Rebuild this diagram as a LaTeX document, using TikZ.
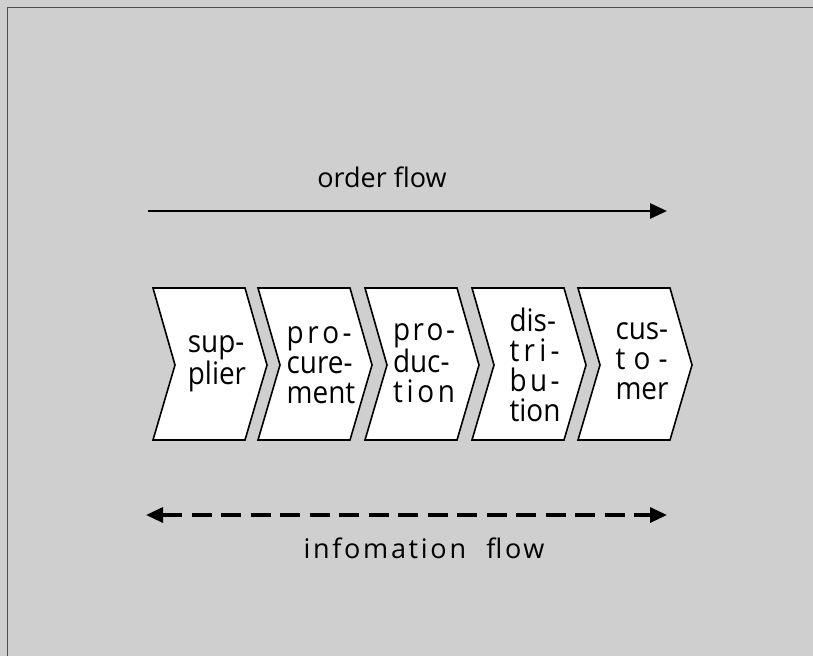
\documentclass[tikz,border=0pt]{standalone}
\usepackage{fontspec}
\setmainfont{Open Sans}
\newfontfamily\chevfont{Open Sans}[FakeStretch=0.9]
\newfontfamily\spacedfont{Open Sans}[LetterSpace=10]
\usetikzlibrary{arrows.meta}
\tikzset{
  chev/.style={draw=black, line width=1.6pt, fill=white, line join=miter},
  lbl/.style={inner sep=0pt, align=left, font=\chevfont\fontsize{31}{30}\selectfont},
  flowtxt/.style={inner sep=0pt, font=\fontsize{27}{31}\selectfont},
  tip/.style={-{Triangle[length=17pt,width=15pt]}},
  dtip/.style={{Triangle[length=17pt,width=15pt]}-{Triangle[length=17pt,width=15pt]}},
}
\newcommand{\spr}[2]{\makebox[#1][s]{#2}}
\begin{document}
\begin{tikzpicture}[x=1pt,y=-1pt]
\useasboundingbox (0,0) rectangle (813,656);
\fill[black!19] (0,0) rectangle (813,656);
\draw[black!70, line width=1pt] (7,656) -- (7,7) -- (813,7);
% chevrons
\foreach \x in {153,258,365,472,578}{
  \draw[chev] (\x,288) -- ++(92,0) -- ++(22,77) -- ++(-22,75) -- ++(-92,0) -- ++(22,-75) -- cycle;
}
\node[lbl] (sup) at (217,364) {sup-\\plier};
\node[lbl] (proc) at (321,365) {\spr{65pt}{p\hfil r\hfil o\hfil -}\\cure-\\ment};
\node[lbl] (prod) at (424,363) {\spr{62pt}{p\hfil r\hfil o\hfil -}\\duc-\\\spr{62pt}{t\hfil i\hfil o\hfil n}};
\node[lbl] (dist) at (535,365) {dis-\\\spr{50pt}{t\hfil r\hfil i\hfil -}\\\spr{50pt}{b\hfil u\hfil -}\\tion};
\node[lbl] (cust) at (642,361) {cus-\\\spr{52pt}{t\hfil o\hfil -}\\mer};
% order flow
\coordinate (of1) at (148,211);
\coordinate (of2) at (667,211);
\draw[tip, line width=2.8pt] (of1) -- (of2);
\node[flowtxt] (ordertxt) at (382,177) {order flow};
% information flow
\coordinate (if1) at (146,515);
\coordinate (if2) at (667,515);
\draw[dtip, line width=3.2pt, dash pattern=on 20pt off 9.5pt] (if1) -- (if2);
\node[flowtxt, font=\spacedfont\fontsize{27}{31}\selectfont] (infotxt) at (424,548) {infomation\hspace{0.75em}flow};
\end{tikzpicture}
\end{document}
